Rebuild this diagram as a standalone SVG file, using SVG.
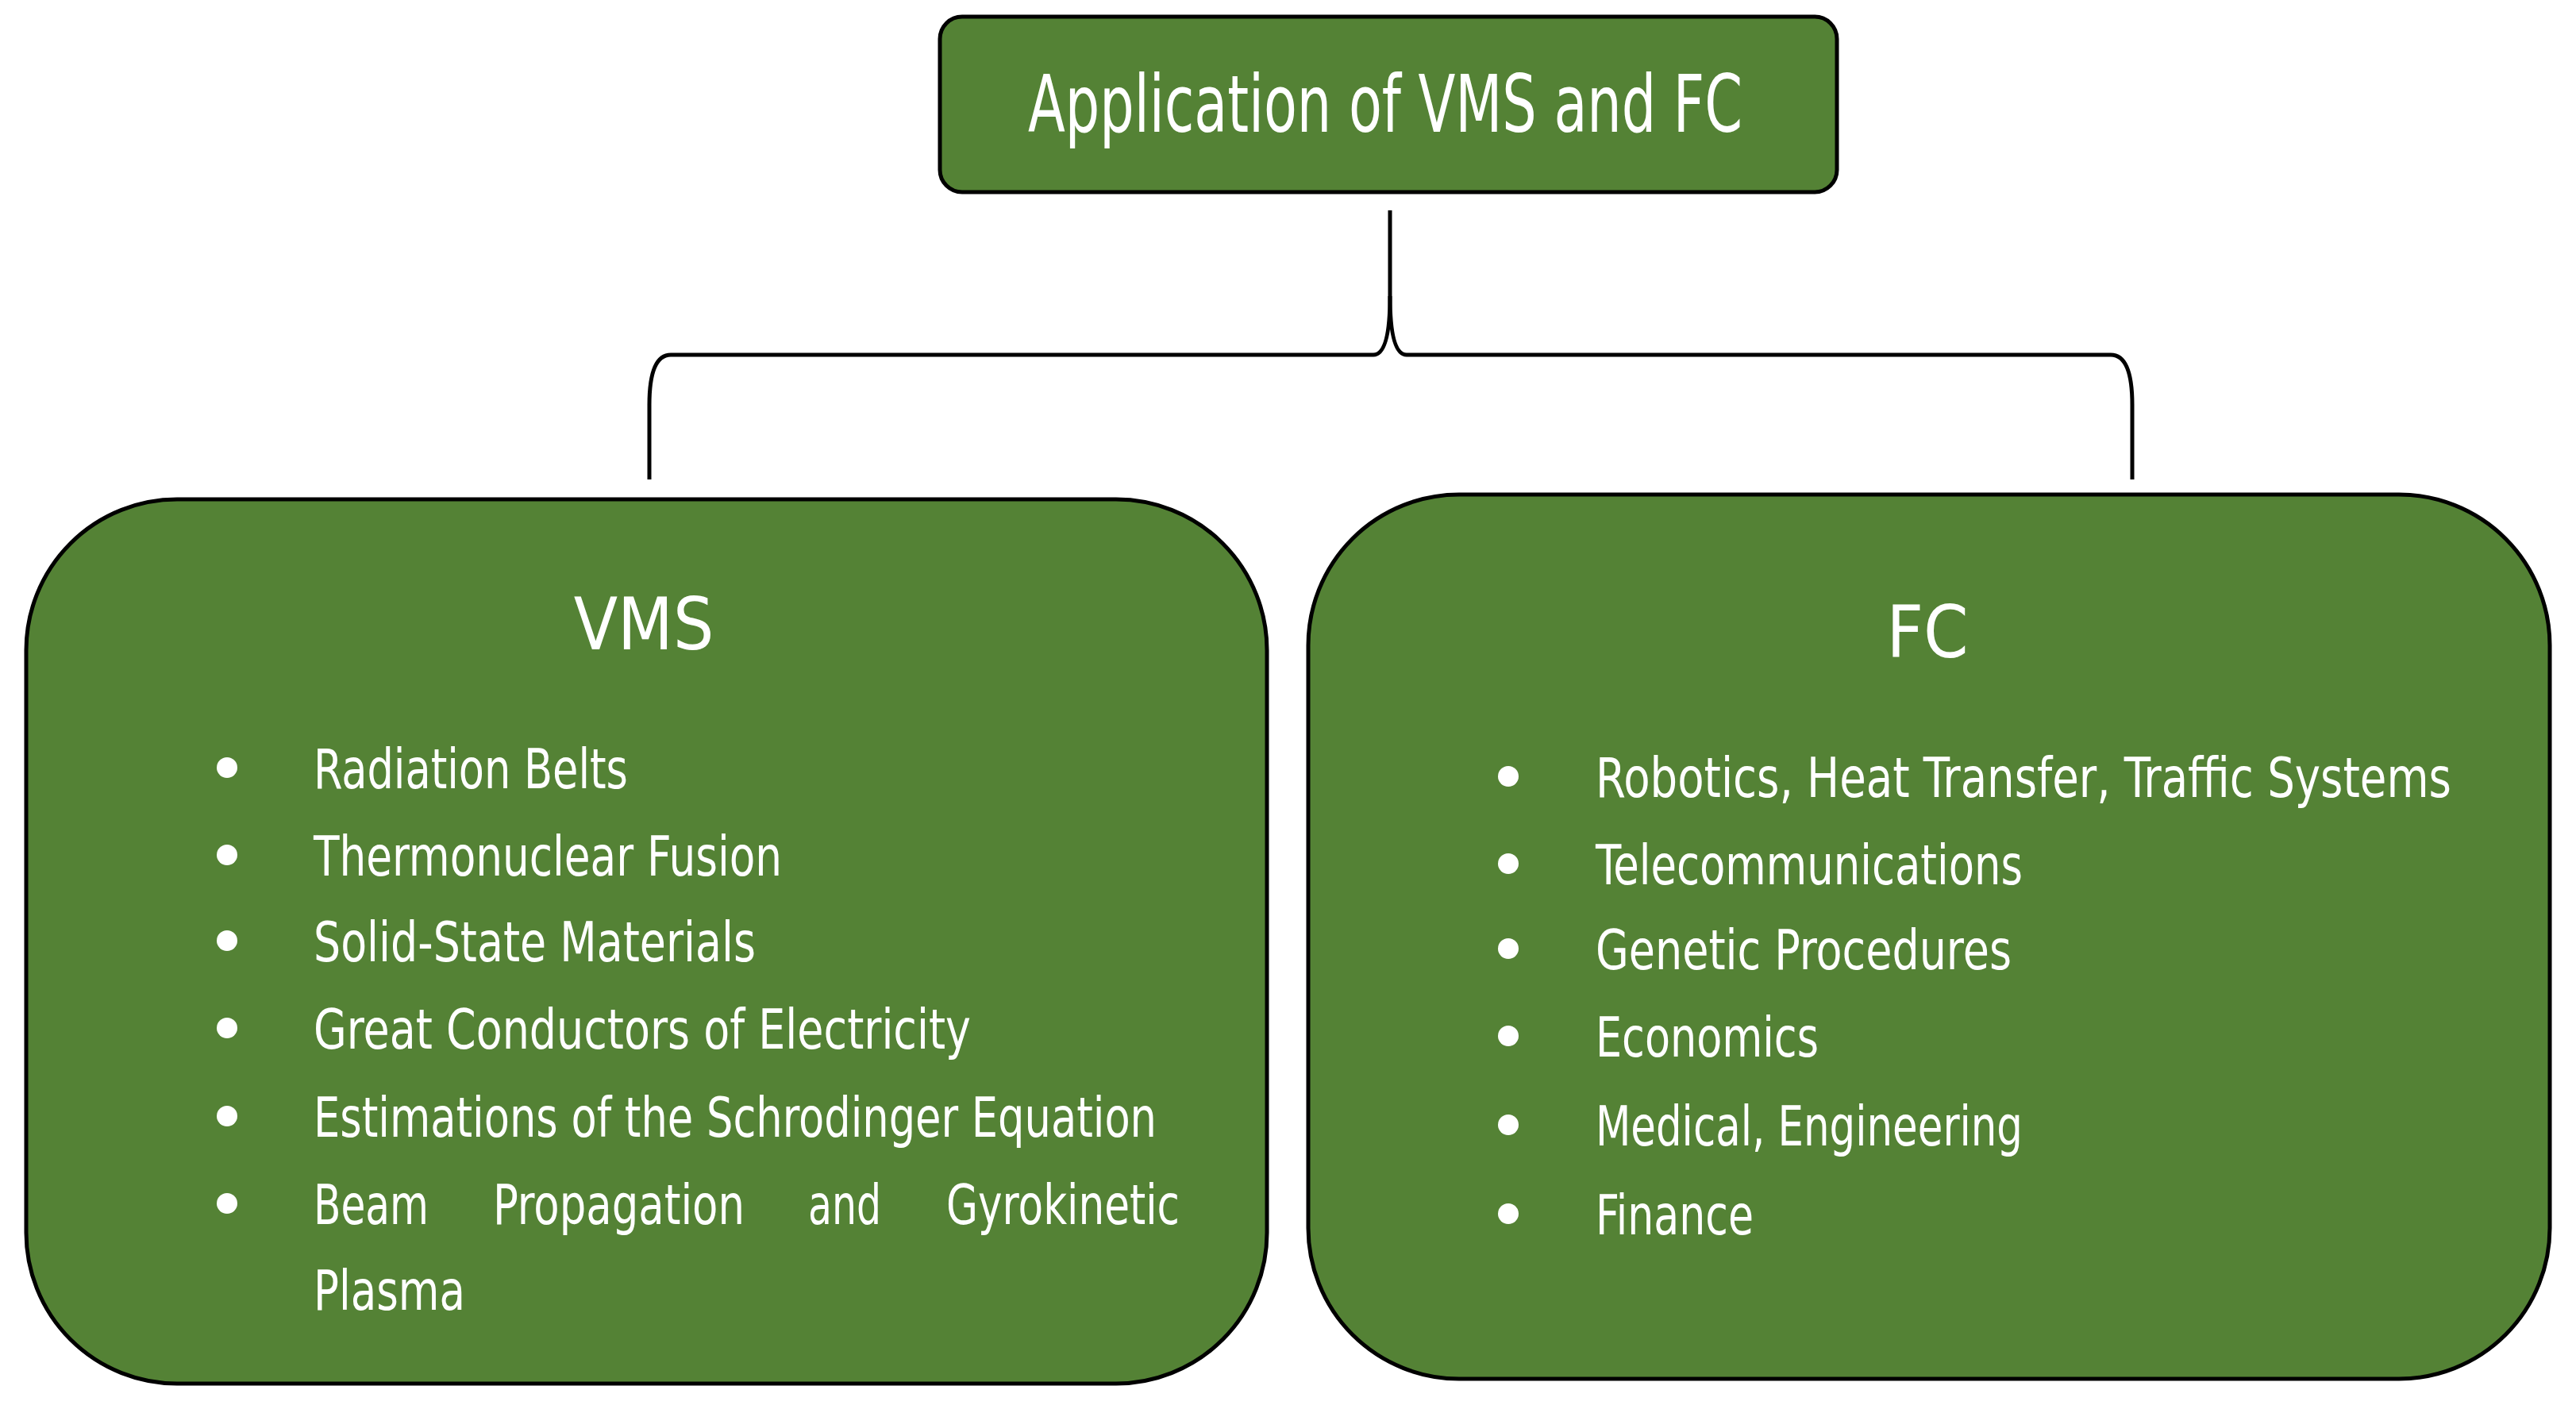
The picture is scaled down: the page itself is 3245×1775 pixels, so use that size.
<svg xmlns="http://www.w3.org/2000/svg" width="3245" height="1775" viewBox="0 0 3245 1775">
<style>
.box{fill:#548235;stroke:#000;stroke-width:5}
text{fill:#fff;font-family:"DejaVu Sans Condensed","Liberation Sans",sans-serif}
.it{font-size:70px}
.b{fill:#fff}
.con{fill:none;stroke:#000;stroke-width:5}
</style>
<rect width="3245" height="1775" fill="#fff"/>
<g id="connectors">
<path class="con" d="M1751,265 L1751,373 Q1751,447 1730,447 L845,447 Q818,447 818,510 L818,604"/>
<path class="con" d="M1751,373 Q1751,447 1772,447 L2659,447 Q2686,447 2686,510 L2686,604"/>
</g>
<g id="title">
<rect class="box" x="1184" y="21" width="1130" height="221" rx="28"/>
<text x="1295" y="166" font-size="100" textLength="900" lengthAdjust="spacingAndGlyphs">Application of VMS and FC</text>
</g>
<g id="vms">
<rect class="box" x="33" y="629" width="1563" height="1114" rx="190"/>
<text x="811" y="818" font-size="90" text-anchor="middle">VMS</text>
<g class="b"><circle cx="286" cy="967" r="13"/><circle cx="286" cy="1077" r="13"/><circle cx="286" cy="1185" r="13"/><circle cx="286" cy="1295" r="13"/><circle cx="286" cy="1406" r="13"/><circle cx="286" cy="1516" r="13"/></g>
<text class="it" x="395" y="993" textLength="396" lengthAdjust="spacingAndGlyphs">Radiation Belts</text>
<text class="it" x="395" y="1103" textLength="590" lengthAdjust="spacingAndGlyphs">Thermonuclear Fusion</text>
<text class="it" x="395" y="1211" textLength="557" lengthAdjust="spacingAndGlyphs">Solid-State Materials</text>
<text class="it" x="395" y="1321" textLength="828" lengthAdjust="spacingAndGlyphs">Great Conductors of Electricity</text>
<text class="it" x="395" y="1432" textLength="1062" lengthAdjust="spacingAndGlyphs">Estimations of the Schrodinger Equation</text>
<text class="it" x="395" y="1542" textLength="145" lengthAdjust="spacingAndGlyphs">Beam</text>
<text class="it" x="621" y="1542" textLength="317" lengthAdjust="spacingAndGlyphs">Propagation</text>
<text class="it" x="1018" y="1542" textLength="92" lengthAdjust="spacingAndGlyphs">and</text>
<text class="it" x="1192" y="1542" textLength="294" lengthAdjust="spacingAndGlyphs">Gyrokinetic</text>
<text class="it" x="395" y="1650" textLength="191" lengthAdjust="spacingAndGlyphs">Plasma</text>
</g>
<g id="fc">
<rect class="box" x="1648" y="623" width="1564" height="1114" rx="190"/>
<text x="2428" y="828" font-size="90" text-anchor="middle">FC</text>
<g class="b"><circle cx="1900" cy="978" r="13"/><circle cx="1900" cy="1088" r="13"/><circle cx="1900" cy="1195" r="13"/><circle cx="1900" cy="1305" r="13"/><circle cx="1900" cy="1417" r="13"/><circle cx="1900" cy="1529" r="13"/></g>
<text class="it" x="2010" y="1004" textLength="1078" lengthAdjust="spacingAndGlyphs">Robotics, Heat Transfer, Traffic Systems</text>
<text class="it" x="2010" y="1114" textLength="538" lengthAdjust="spacingAndGlyphs">Telecommunications</text>
<text class="it" x="2010" y="1221" textLength="524" lengthAdjust="spacingAndGlyphs">Genetic Procedures</text>
<text class="it" x="2010" y="1331" textLength="281" lengthAdjust="spacingAndGlyphs">Economics</text>
<text class="it" x="2010" y="1443" textLength="538" lengthAdjust="spacingAndGlyphs">Medical, Engineering</text>
<text class="it" x="2010" y="1555" textLength="199" lengthAdjust="spacingAndGlyphs">Finance</text>
</g>
</svg>
